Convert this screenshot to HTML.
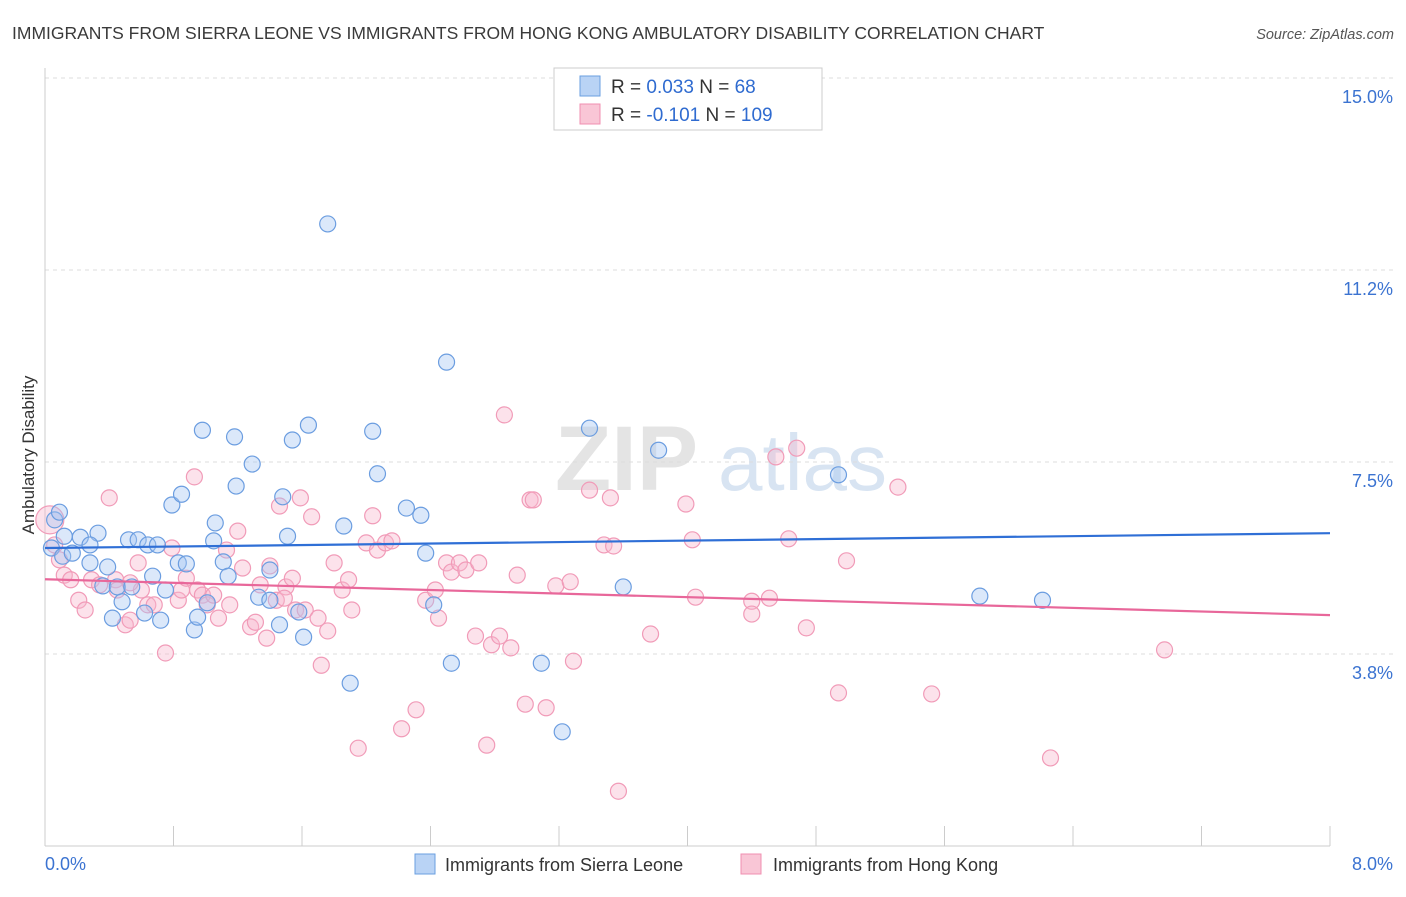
<!DOCTYPE html>
<html><head><meta charset="utf-8"><style>
body{margin:0;background:#fff;font-family:"Liberation Sans",sans-serif;}
svg text{font-family:"Liberation Sans",sans-serif;}
</style></head><body>
<svg id="chart" width="1406" height="892" viewBox="0 0 1406 892" xmlns="http://www.w3.org/2000/svg">
<text x="12" y="39" font-size="17.5" fill="#3a3a3a">IMMIGRANTS FROM SIERRA LEONE VS IMMIGRANTS FROM HONG KONG AMBULATORY DISABILITY CORRELATION CHART</text>
<text x="1394" y="39" font-size="14.5" fill="#555" font-style="italic" text-anchor="end">Source: ZipAtlas.com</text>
<g><text x="555" y="490" font-size="92" fill="#e4e4e4" font-family="Liberation Serif" font-weight="bold">ZIP</text><text x="718" y="490" font-size="80" fill="#d8e4f2">atlas</text></g>
<g id="grid"></g>
<g id="axes"></g>
<g id="pts"></g>
<g id="lines"></g>
<text transform="translate(34,455) rotate(-90)" font-size="17" fill="#333" text-anchor="middle">Ambulatory Disability</text>
<g>
<rect x="554" y="68" width="268" height="62" fill="#fff" stroke="#ccc"/>
<rect x="580" y="76" width="20" height="20" fill="#b9d3f5" stroke="#6a9fe0"/>
<rect x="580" y="104" width="20" height="20" fill="#f9c6d6" stroke="#f08fb0"/>
<text x="611" y="93" font-size="19" fill="#333">R = <tspan fill="#2f6bd0">0.033</tspan>   N = <tspan fill="#2f6bd0"> 68</tspan></text>
<text x="611" y="121" font-size="19" fill="#333">R = <tspan fill="#2f6bd0">-0.101</tspan>   N = <tspan fill="#2f6bd0">109</tspan></text>
</g>
<g><rect x="415" y="854" width="20" height="20" fill="#b9d3f5" stroke="#6a9fe0"/><text x="445" y="871" font-size="18" fill="#333">Immigrants from Sierra Leone</text></g>
<g><rect x="741" y="854" width="20" height="20" fill="#f9c6d6" stroke="#f08fb0"/><text x="773" y="871" font-size="18" fill="#333">Immigrants from Hong Kong</text></g>
</svg>
<script>
const yTicks=[3.75,7.5,11.25,15];
const yTickLabels=["3.8%","7.5%","11.2%","15.0%"];
const xTicks=[0,0.8,1.6,2.4,3.2,4.0,4.8,5.6,6.4,7.2,8.0];
const blueX=[0.06,0.04,0.11,0.17,0.22,0.33,0.28,0.39,0.36,0.42,0.48,0.52,0.58,0.64,0.70,0.67,0.72,0.75,0.79,0.85,0.83,0.88,0.93,0.95,0.98,1.01,1.05,1.06,1.11,1.14,1.18,1.19,1.29,1.33,1.40,1.48,1.46,1.51,1.54,1.58,1.61,1.64,1.86,1.90,2.04,2.07,2.25,2.34,2.37,2.42,2.50,2.53,1.76,3.09,3.22,3.39,3.60,3.82,4.94,5.82,6.21,0.45,0.62,0.28,0.12,0.09,0.54,1.40];
const blueY=[6.37,5.82,5.66,5.72,6.03,6.11,5.53,5.45,5.08,4.45,4.77,5.98,5.98,5.88,5.88,5.27,4.41,5.00,6.66,6.87,5.53,5.51,4.22,4.47,8.12,4.75,5.96,6.31,5.55,5.27,7.99,7.03,7.46,4.86,5.39,6.82,4.32,6.05,7.93,4.57,4.08,8.22,6.25,3.18,8.10,7.27,6.60,6.46,5.72,4.71,9.45,3.57,12.15,3.57,2.23,8.16,5.06,7.73,7.25,4.88,4.80,5.06,4.55,5.88,6.05,6.52,5.06,4.80];
const pinkX=[0.03,0.06,0.09,0.12,0.16,0.21,0.25,0.29,0.34,0.40,0.44,0.45,0.50,0.53,0.58,0.60,0.64,0.68,0.75,0.79,0.83,0.85,0.88,0.93,0.95,0.98,1.01,1.05,1.08,1.13,1.15,1.20,1.23,1.28,1.31,1.34,1.38,1.40,1.44,1.46,1.50,1.54,1.56,1.59,1.62,1.66,1.70,1.72,1.76,1.80,1.85,1.89,1.91,1.95,2.00,2.04,2.07,2.12,2.16,2.22,2.31,2.37,2.43,2.45,2.50,2.53,2.58,2.62,2.68,2.70,2.75,2.78,2.83,2.86,2.90,2.94,2.99,3.02,3.04,3.12,3.18,3.27,3.29,3.39,3.48,3.52,3.54,3.57,3.77,3.99,4.03,4.05,4.40,4.40,4.51,4.55,4.63,4.68,4.74,4.94,4.99,5.31,5.52,6.26,6.97,0.53,1.49];
const pinkY=[6.37,5.88,5.59,5.29,5.20,4.80,4.61,5.20,5.10,6.80,5.20,5.00,4.32,4.41,5.53,5.00,4.71,4.71,3.77,5.82,4.80,5.00,5.23,7.21,5.00,4.90,4.71,4.90,4.45,5.78,4.71,6.15,5.43,4.28,4.37,5.10,4.06,5.47,4.80,6.64,5.06,5.23,4.61,6.80,4.61,6.43,4.45,3.53,4.20,5.53,5.00,5.20,4.61,1.91,5.92,6.45,5.78,5.92,5.96,2.29,2.66,4.80,5.00,4.45,5.53,5.35,5.53,5.39,4.10,5.53,1.97,3.93,4.10,8.42,3.87,5.29,2.77,6.76,6.76,2.70,5.08,5.16,3.61,6.95,5.88,6.80,5.86,1.07,4.14,6.68,5.98,4.86,4.78,4.53,4.84,7.60,6.00,7.77,4.26,2.99,5.57,7.01,2.97,1.72,3.83,5.14,4.84];
const blueTrend=[5.82,6.11];
const pinkTrend=[5.21,4.51];
const NS="http://www.w3.org/2000/svg";
const X0=45,X1=1330,Y0=846,PPU=51.2;
function sx(v){return X0+(v/8)*(X1-X0);}
function sy(v){return Y0-v*PPU;}
function mk(t,a,p){const e=document.createElementNS(NS,t);for(const k in a)e.setAttribute(k,a[k]);p.appendChild(e);return e;}
const grid=document.getElementById('grid'),axes=document.getElementById('axes'),pts=document.getElementById('pts'),lines=document.getElementById('lines');
yTicks.forEach((v,i)=>{
 const l=mk('line',{x1:X0,x2:1394,y1:sy(v),y2:sy(v),stroke:'#ddd','stroke-dasharray':'4,4'},grid);
 
 
 const t=mk('text',{x:1393,y:sy(v)+25,'font-size':18,fill:'#3b73d1','text-anchor':'end'},axes);
 t.textContent=yTickLabels[i];
 
 
});
mk('line',{x1:X0,x2:X0,y1:68,y2:Y0,stroke:'#ccc'},axes);
mk('line',{x1:X0,x2:X1,y1:Y0,y2:Y0,stroke:'#ccc'},axes);
xTicks.forEach(v=>{
 const l=mk('line',{x1:sx(v),x2:sx(v),y1:826,y2:Y0,stroke:'#ccc'},axes);
 
 
});
const xl=mk('text',{x:45,y:870,'font-size':18,fill:'#3b73d1'},axes);xl.textContent='0.0%';


const xr=mk('text',{x:1393,y:870,'font-size':18,fill:'#3b73d1','text-anchor':'end'},axes);xr.textContent='8.0%';


pinkX.forEach((v,i)=>{
 const c=mk('circle',{cx:sx(v),cy:sy(pinkY[i]),r:i===0?14:8,fill:'rgba(248,182,204,0.4)',stroke:'#f19bb8','stroke-width':1.2},pts);
 
 
});
blueX.forEach((v,i)=>{
 const c=mk('circle',{cx:sx(v),cy:sy(blueY[i]),r:8,fill:'rgba(164,198,242,0.4)',stroke:'#6b9de0','stroke-width':1.2},pts);
 
 
});
const bl=mk('line',{x1:sx(0),x2:sx(8),y1:sy(blueTrend[0]),y2:sy(blueTrend[1]),stroke:'#2f6fd6','stroke-width':2.2},lines);


const pl=mk('line',{x1:sx(0),x2:sx(8),y1:sy(pinkTrend[0]),y2:sy(pinkTrend[1]),stroke:'#e8679a','stroke-width':2.2},lines);


</script>
</body></html>
